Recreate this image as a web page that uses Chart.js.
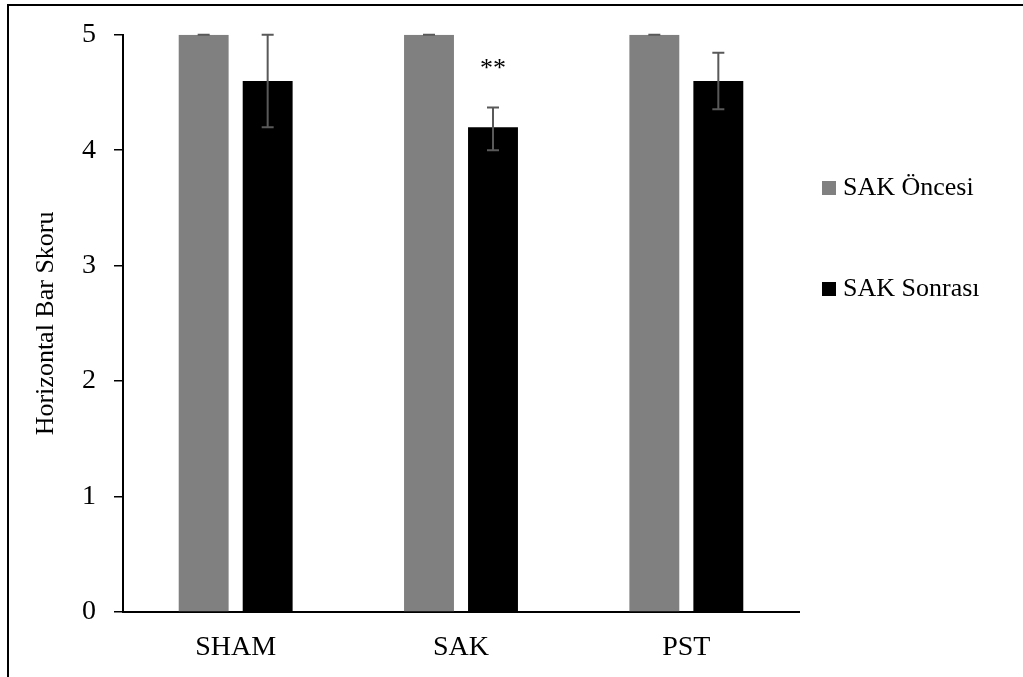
<!DOCTYPE html>
<html>
<head>
<meta charset="utf-8">
<script src="https://cdn.jsdelivr.net/npm/chart.js@4.4.1/dist/chart.umd.min.js"></script>
<style>
  html, body { margin: 0; padding: 0; background: #fff; overflow: hidden; }
  #frame { position: absolute; left: 7px; top: 4px; width: 1100px; height: 800px; border: 2px solid #000; }
  #wrap { position: absolute; left: 0; top: 0; width: 1023px; height: 677px; }
</style>
</head>
<body>
<div id="frame"></div>
<div id="wrap"><canvas id="myChart"></canvas></div>
<script>
// data
let categories = ['SHAM', 'SAK', 'PST'];
let seriesNames = ['SAK Öncesi', 'SAK Sonrası'];
let oncesi = [5, 5, 5];
let sonrasi = [4.6, 4.2, 4.6];
let oncesiErrUp = [0, 0, 0];
let oncesiErrDown = [0, 0, 0];
let sonrasiErrUp = [0.4, 0.17, 0.245];
let sonrasiErrDown = [0.4, 0.2, 0.245];
let sonrasiSig = ['', '**', ''];
let yTicks = [0, 1, 2, 3, 4, 5];

const serif = "'Liberation Serif', 'Times New Roman', serif";
Chart.defaults.font.family = serif;
Chart.defaults.font.size = 26;
Chart.defaults.color = '#000';

// error bars + significance stars
const errorBars = {
    id: 'errorBars',
    afterDatasetsDraw(chart) {
        const ctx = chart.ctx;
        const y = chart.scales.y;
        chart.data.datasets.forEach((ds, i) => {
            const meta = chart.getDatasetMeta(i);
            meta.data.forEach((bar, j) => {
                const v = ds.data[j];
                const top = y.getPixelForValue(v + ds.errUp[j]);
                const bot = y.getPixelForValue(v - ds.errDown[j]);
                ctx.save();
                ctx.strokeStyle = '#595959';
                ctx.lineWidth = 2;
                ctx.beginPath();
                ctx.moveTo(bar.x, top);
                ctx.lineTo(bar.x, bot);
                ctx.moveTo(bar.x - 6, top);
                ctx.lineTo(bar.x + 6, top);
                ctx.moveTo(bar.x - 6, bot);
                ctx.lineTo(bar.x + 6, bot);
                ctx.stroke();
                if (ds.sig && ds.sig[j]) {
                    ctx.fillStyle = '#000';
                    ctx.font = '26px ' + serif;
                    ctx.textAlign = 'center';
                    ctx.textBaseline = 'alphabetic';
                    ctx.fillText(ds.sig[j], bar.x, top - 32);
                }
                ctx.restore();
            });
        });
    }
};

// legend on the right, like the original
const sideLegend = {
    id: 'sideLegend',
    afterDraw(chart) {
        const ctx = chart.ctx;
        const x = chart.chartArea.right + 23;
        ctx.save();
        ctx.font = '26px ' + serif;
        ctx.textBaseline = 'middle';
        ctx.textAlign = 'left';
        chart.data.datasets.forEach((ds, i) => {
            const yc = 188 + i * 101;
            ctx.fillStyle = ds.backgroundColor;
            ctx.fillRect(x, yc - 7, 14, 14);
            ctx.fillStyle = '#000';
            ctx.fillText(ds.label, x + 21, yc);
        });
        ctx.restore();
    }
};

new Chart('myChart', {
    type: 'bar',
    data: {
        labels: categories,
        datasets: [{
            label: seriesNames[0],
            data: oncesi,
            errUp: oncesiErrUp,
            errDown: oncesiErrDown,
            backgroundColor: '#808080',
            borderWidth: 0
        }, {
            label: seriesNames[1],
            data: sonrasi,
            errUp: sonrasiErrUp,
            errDown: sonrasiErrDown,
            sig: sonrasiSig,
            backgroundColor: '#000000',
            borderWidth: 0
        }]
    },
    options: {
        responsive: true,
        maintainAspectRatio: false,
        animation: false,
        categoryPercentage: 0.568,
        barPercentage: 0.78,
        layout: { padding: { top: 34, right: 224, bottom: 0, left: 0 } },
        plugins: {
            legend: { display: false },
            tooltip: { enabled: false }
        },
        scales: {
            x: {
                grid: { display: true, drawOnChartArea: false, drawTicks: false },
                border: { display: true, color: '#000', width: 2 },
                ticks: { padding: 19, font: { size: 28 } },
                afterFit(scale) { scale.height = 65; }
            },
            y: {
                min: 0,
                max: 5,
                afterBuildTicks(scale) { scale.ticks = yTicks.map(v => ({ value: v })); },
                grid: { display: true, drawOnChartArea: false, drawTicks: true, tickLength: 9, color: '#000', lineWidth: 1.5 },
                border: { display: true, color: '#000', width: 2 },
                ticks: { padding: 18, font: { size: 28 } },
                title: { display: true, text: 'Horizontal Bar Skoru', font: { size: 26 }, padding: { top: 31, bottom: 0 } },
                afterFit(scale) { scale.width = 123; }
            }
        }
    },
    plugins: [errorBars, sideLegend]
});
</script>
</body>
</html>
